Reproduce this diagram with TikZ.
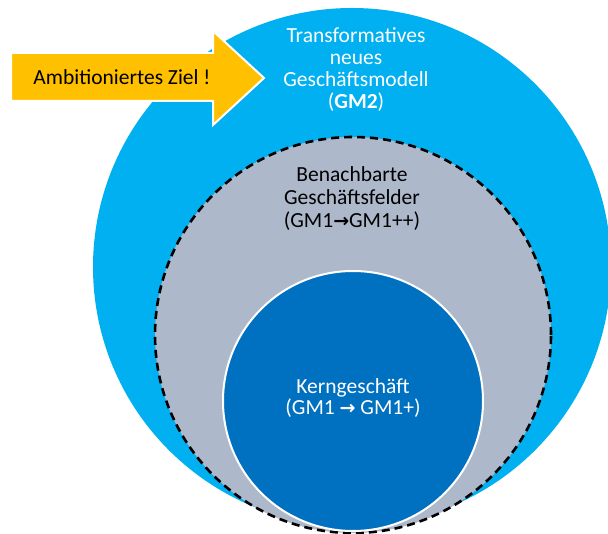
\documentclass[tikz,border=0pt]{standalone}
\usepackage{fontspec}
\setmainfont{Carlito}
\newfontfamily\arrowfont{DejaVu Sans}
\definecolor{outerblue}{HTML}{00B0F0}
\definecolor{midgray}{HTML}{ADB9CA}
\definecolor{coreblue}{HTML}{0070C0}
\definecolor{goldarrow}{HTML}{FFC000}
\tikzset{
  ring/.style={circle, inner sep=0pt},
  label text/.style={align=center, font=\fontsize{21.5}{22}\selectfont},
}
\newcommand{\rarr}{{\arrowfont\bfseries\fontsize{19}{19}\selectfont →}}
\begin{document}
\begin{tikzpicture}[x=1pt,y=-1pt]
\useasboundingbox (0,0) rectangle (608,534);
\node[ring, fill=outerblue, minimum size=518pt] (outer) at (352,267) {};
\node[ring, fill=midgray, draw=black, line width=2.6pt, dash pattern=on 8pt off 5pt, minimum size=396pt] (field) at (353,335) {};
\node[ring, fill=coreblue, draw=white, line width=2pt, minimum size=260pt] (core) at (353,401) {};
\draw[fill=goldarrow, draw=white, line width=2pt, line join=miter]
  (11,53) -- (213,53) -- (213,31) -- (264,78) -- (213,125) -- (213,101) -- (11,101) -- cycle;
\node[label text, text=black] (goal) at (122,77) {Ambitioniertes Ziel !};
\node[label text, text=white] (gm2) at (356,70) {Transformatives\\neues\\Geschäftsmodell\\(\textbf{GM2})};
\node[label text, text=black, font=\fontsize{21.5}{23}\selectfont] (gm1pp) at (352,199) {Benachbarte\\Geschäftsfelder\\(GM1\rarr GM1++)};
\node[label text, text=white, font=\fontsize{21.5}{21}\selectfont] (gm1p) at (353,398) {Kerngeschäft\\(GM1 \rarr{} GM1+)};
\end{tikzpicture}
\end{document}
